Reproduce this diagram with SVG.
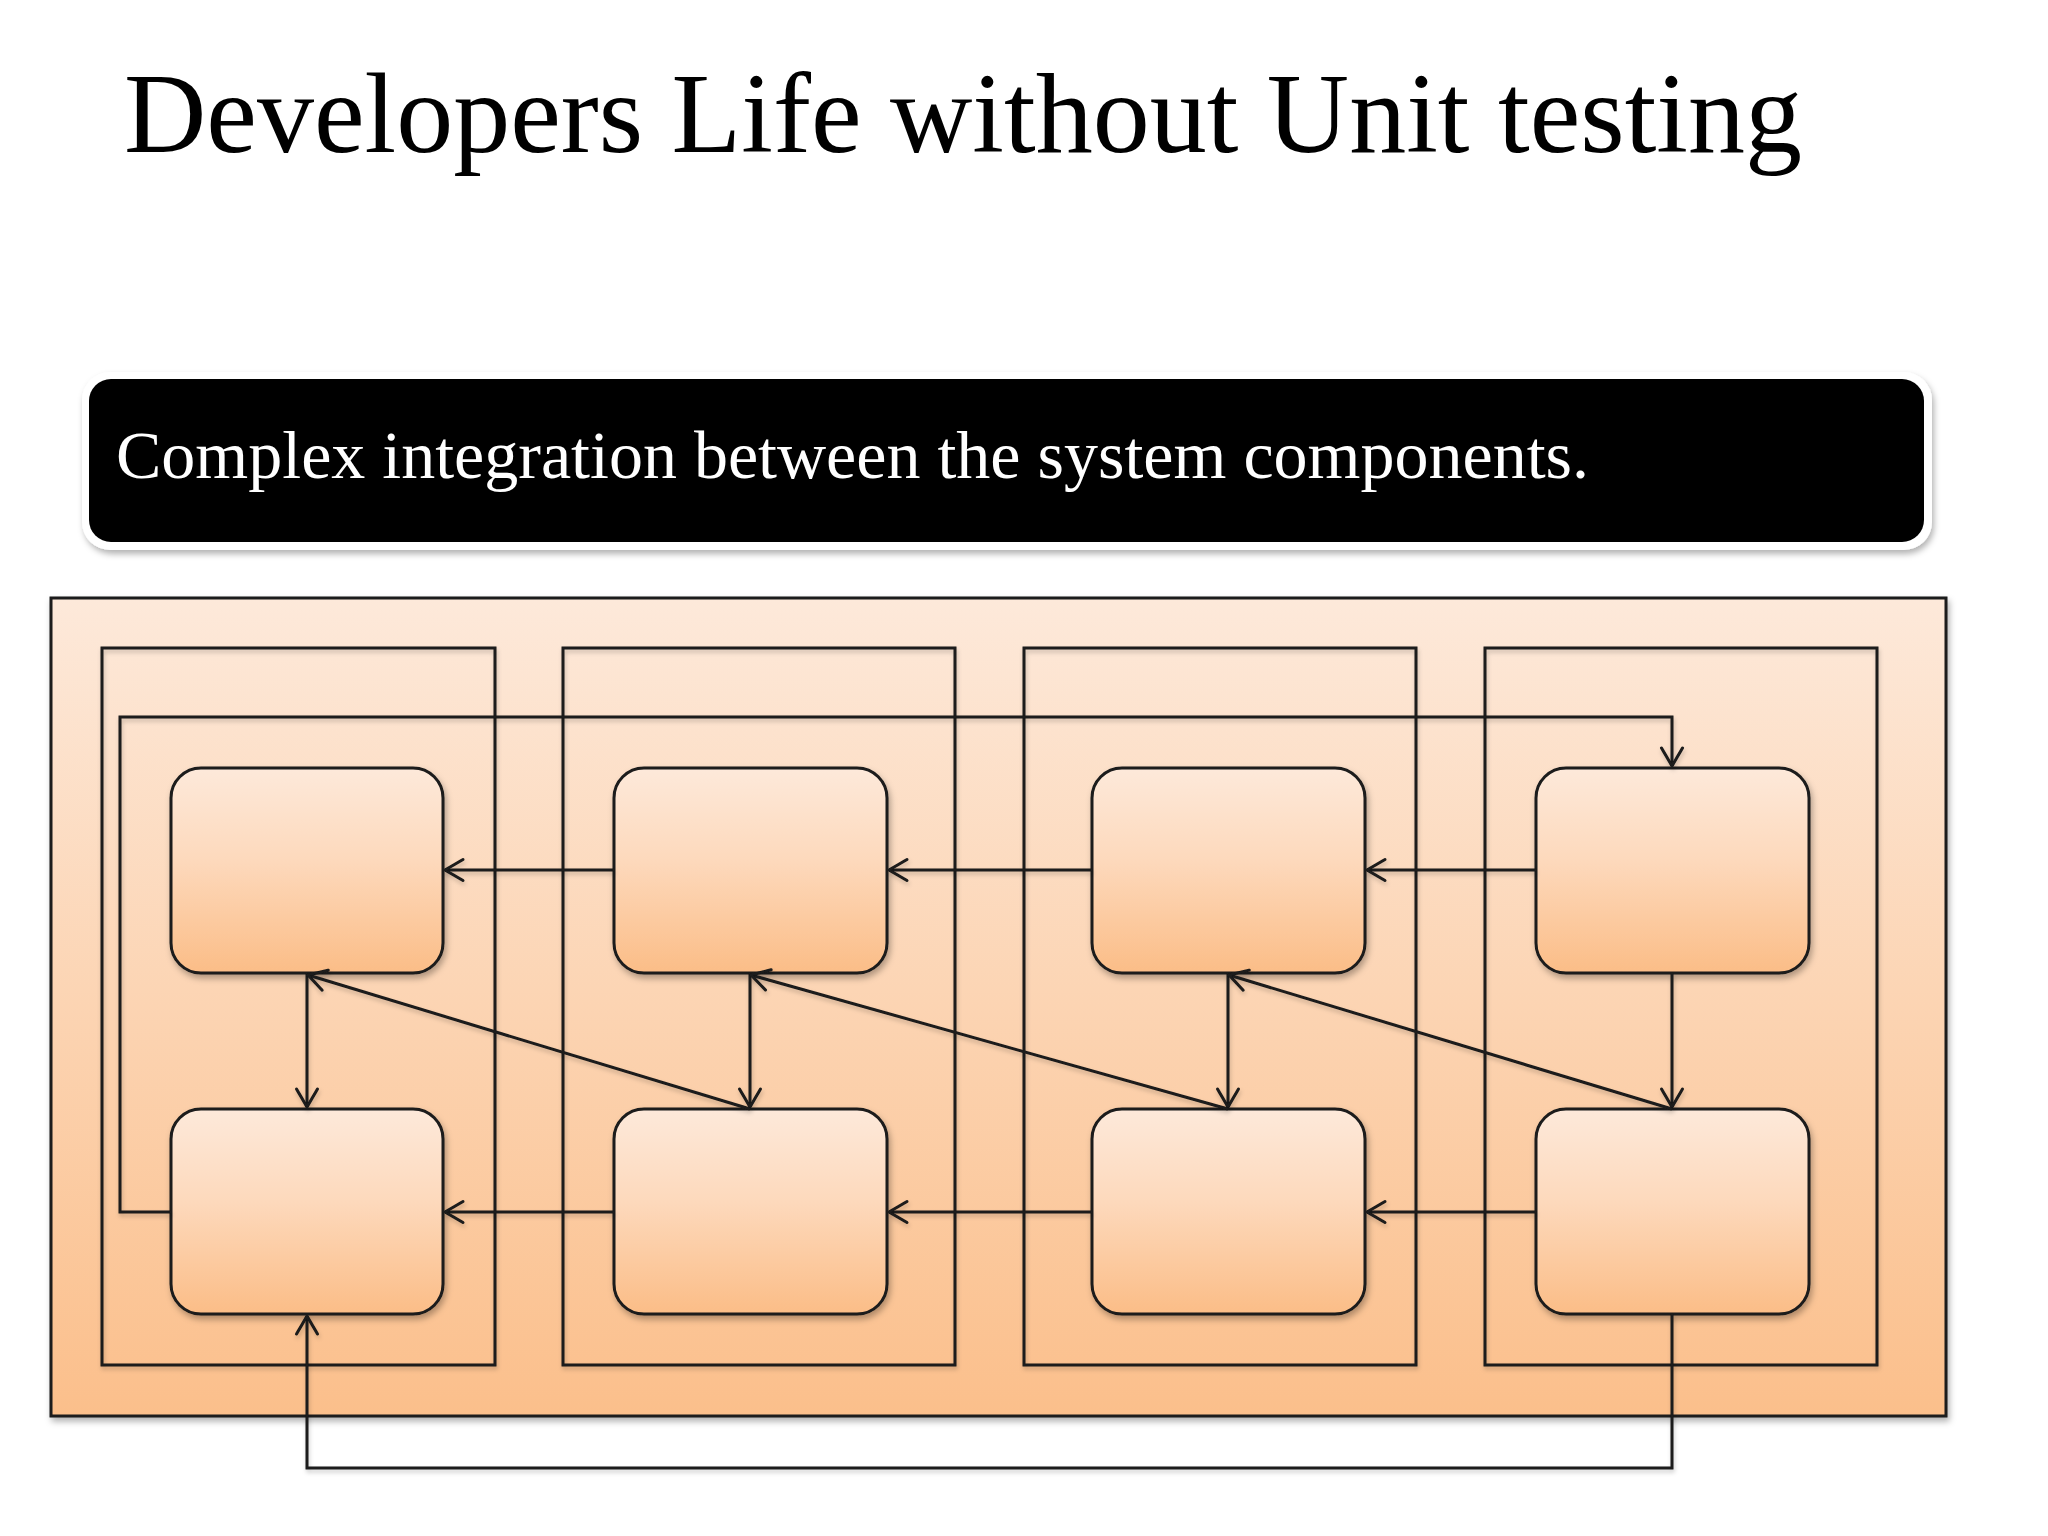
<svg xmlns="http://www.w3.org/2000/svg" width="2048" height="1536" viewBox="0 0 2048 1536">
<defs>
  <linearGradient id="bgGrad" x1="0" y1="0" x2="0" y2="1">
    <stop offset="0" stop-color="#FDE9DA"/>
    <stop offset="1" stop-color="#FBBF8B"/>
  </linearGradient>
  <linearGradient id="boxGrad" x1="0" y1="0" x2="0" y2="1">
    <stop offset="0" stop-color="#FDE9DA"/>
    <stop offset="0.45" stop-color="#FDD9BC"/>
    <stop offset="1" stop-color="#FBBD87"/>
  </linearGradient>
  <filter id="shadow" x="-5%" y="-5%" width="110%" height="115%">
    <feDropShadow dx="2" dy="4" stdDeviation="3" flood-color="#000" flood-opacity="0.3"/>
  </filter>
  <filter id="lineShadow" x="-2%" y="-2%" width="104%" height="104%">
    <feDropShadow dx="1" dy="3" stdDeviation="2" flood-color="#000" flood-opacity="0.2"/>
  </filter>
  <marker id="arrow" markerUnits="userSpaceOnUse" markerWidth="40" markerHeight="40" viewBox="-30 -20 40 40" refX="0" refY="0" orient="auto" overflow="visible">
    <path d="M-18,-10.5 L0,0 L-18,10.5" fill="none" stroke="#1a1a1a" stroke-width="3" stroke-linecap="round" stroke-linejoin="round"/>
  </marker>
  <style>
    .title { font-family: "Liberation Serif", "Times New Roman", serif; font-size: 114px; fill: #000; }
    .sub { font-family: "Liberation Serif", "Times New Roman", serif; font-size: 68px; fill: #fff; }
    .frame { fill: none; stroke: #1a1a1a; stroke-width: 3; }
    .node { fill: url(#boxGrad); stroke: #1a1a1a; stroke-width: 3; }
    .conn { fill: none; stroke: #1a1a1a; stroke-width: 3; stroke-linejoin: miter; }
    .arr { marker-end: url(#arrow); }
  </style>
</defs>

<rect x="0" y="0" width="2048" height="1536" fill="#ffffff"/>

<g id="title">
  <text class="title" x="124" y="152">Developers Life without Unit testing</text>
</g>

<g id="banner">
  <rect x="82" y="372" width="1850" height="178" rx="28" ry="28" fill="#ffffff" filter="url(#shadow)"/>
  <rect x="89" y="379" width="1835" height="163" rx="22" ry="22" fill="#000000"/>
  <text class="sub" x="116" y="478">Complex integration between the system components.</text>
</g>

<g id="system">
  <rect x="51" y="598" width="1895" height="818" fill="url(#bgGrad)" stroke="#1a1a1a" stroke-width="3" filter="url(#shadow)"/>
</g>

<g id="columns" filter="url(#lineShadow)">
  <rect id="col1" class="frame" x="102" y="648" width="393" height="717"/>
  <rect id="col2" class="frame" x="563" y="648" width="392" height="717"/>
  <rect id="col3" class="frame" x="1024" y="648" width="392" height="717"/>
  <rect id="col4" class="frame" x="1485" y="648" width="392" height="717"/>
</g>

<g id="nodes" filter="url(#shadow)">
  <rect id="n1" class="node" x="171" y="768" width="272" height="205" rx="30" ry="30"/>
  <rect id="n2" class="node" x="614" y="768" width="273" height="205" rx="30" ry="30"/>
  <rect id="n3" class="node" x="1092" y="768" width="273" height="205" rx="30" ry="30"/>
  <rect id="n4" class="node" x="1536" y="768" width="273" height="205" rx="30" ry="30"/>
  <rect id="n5" class="node" x="171" y="1109" width="272" height="205" rx="30" ry="30"/>
  <rect id="n6" class="node" x="614" y="1109" width="273" height="205" rx="30" ry="30"/>
  <rect id="n7" class="node" x="1092" y="1109" width="273" height="205" rx="30" ry="30"/>
  <rect id="n8" class="node" x="1536" y="1109" width="273" height="205" rx="30" ry="30"/>
</g>

<g id="connectors" filter="url(#lineShadow)">
  <path class="conn arr" d="M1536,870 L1367,870"/>
  <path class="conn arr" d="M1092,870 L889,870"/>
  <path class="conn arr" d="M614,870 L445,870"/>
  <path class="conn arr" d="M1536,1212 L1367,1212"/>
  <path class="conn arr" d="M1092,1212 L889,1212"/>
  <path class="conn arr" d="M614,1212 L445,1212"/>
  <path class="conn arr" d="M307,973 L307,1107"/>
  <path class="conn arr" d="M750,973 L750,1107"/>
  <path class="conn arr" d="M1228,973 L1228,1107"/>
  <path class="conn arr" d="M1672,973 L1672,1107"/>
  <path class="conn arr" d="M750,1109 L308,975"/>
  <path class="conn arr" d="M1228,1109 L751,975"/>
  <path class="conn arr" d="M1672,1109 L1229,975"/>
  <path class="conn arr" d="M171,1212 L120,1212 L120,717 L1672,717 L1672,766"/>
  <path class="conn arr" d="M1672,1314 L1672,1468 L307,1468 L307,1316"/>
</g>
</svg>
